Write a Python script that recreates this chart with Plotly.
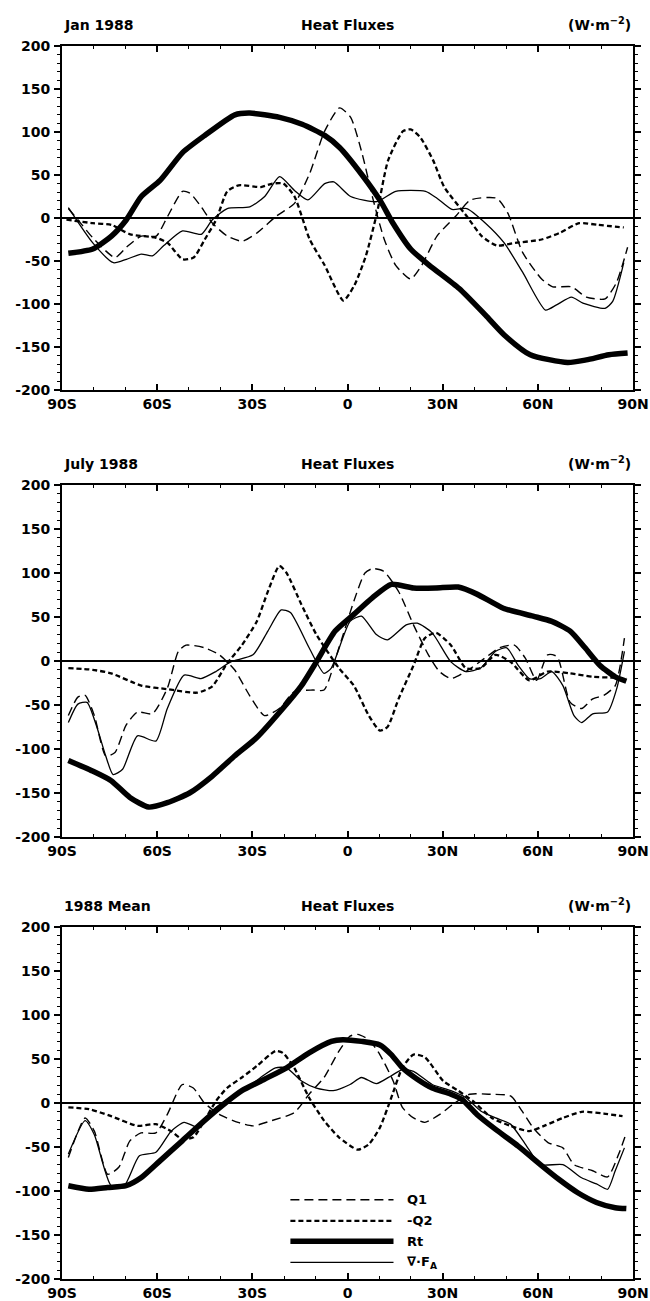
import plotly.graph_objects as go

# ---------------- axis ticks ----------------
lat_ticks = [-90, -60, -30, 0, 30, 60, 90]
lat_ticklabels = ["90S", "60S", "30S", "0", "30N", "60N", "90N"]
y_ticks = [-200, -150, -100, -50, 0, 50, 100, 150, 200]

panel_titles = ["Jan 1988", "July 1988", "1988 Mean"]
series_names = ["Q1", "-Q2", "Rt", "∇·F<sub>A</sub>"]

# ---------------- Jan 1988 ----------------
jan_q1_lat = [-88, -85, -80.3, -73.3, -69.7, -65, -60.3, -56.7, -52, -49.7, -46.1, -42.6, -37.9, -33.2, -28.4, -22.5,
              -16.7, -11.9, -7.2, -2.5, 1, 4.6, 8.1, 11.6, 15.2, 19.9, 23.4, 28.2, 34.1, 38.8, 47, 50.5, 55.2, 61.2,
              64.7, 70.6, 75.3, 81.2, 84.8, 88.3]
jan_q1 = [11, -2, -23, -46, -34, -21, -21, 2, 31, 29, 13, -6, -21, -27, -17, 2,
          17, 52, 101, 128, 117, 75, 21, -25, -55, -71, -55, -21, 2, 21, 23, 6, -40, -71,
          -80, -80, -92, -94, -75, -34]
jan_q2_lat = [-88.6, -80.3, -74.4, -68.5, -60.3, -56.7, -52, -48.5, -45, -41.4, -37.9, -34.3, -27.3, -23.7, -20.2,
              -16.7, -11.9, -7.2, -1.3, 2.2, 5.8, 9.3, 12.8, 17.5, 19.9, 22.9, 27, 30.5, 37.6, 42.3, 47, 52.9, 61.2,
              67.1, 73, 78.9, 87.1]
jan_q2 = [-2, -6, -8, -19, -23, -29, -48, -46, -25, -2, 31, 38, 36, 40, 40,
          25, -25, -55, -96, -78, -44, 6, 67, 101, 103, 94, 67, 36, 2, -21, -32, -29, -25,
          -17, -6, -8, -11]
jan_rt_lat = [-88, -80.3, -74.4, -69.7, -65, -59, -52, -45, -35.5, -30.8, -21.4, -14.3, -7.2, -2.5, 4.6, 10.5, 14,
              19.9, 25.8, 35.2, 43.5, 49.4, 57.6, 69.4, 75.3, 82.4, 88.3]
jan_rt = [-41, -36, -21, -2, 25, 44, 76, 96, 120, 122, 117, 109, 96, 82, 50, 19, -4,
          -36, -55, -82, -113, -136, -159, -168, -165, -159, -157]
jan_fa_lat = [-88, -80.3, -73.8, -69.7, -65, -61.5, -57.9, -52, -46.1, -42.6, -37.9, -30.8, -26.1, -21.4, -16.7,
              -12.5, -7.2, -4.3, 1, 9.3, 15.2, 24.6, 28.2, 32.9, 37.6, 43.5, 49.4, 55.2, 62.4, 65.9, 70.6, 74.2,
              81.2, 83.6, 87.1]
jan_fa = [12, -29, -52, -48, -42, -44, -32, -15, -19, -2, 11, 13, 25, 48, 32,
          21, 40, 42, 25, 19, 31, 31, 23, 10, 11, -6, -29, -63, -107, -101, -92, -99,
          -105, -97, -52]

# ---------------- July 1988 ----------------
jul_q1_lat = [-88, -85, -82.7, -79.8, -76.2, -73.3, -69.8, -66.2, -61.5, -56.8, -53.3, -50.9, -45, -40.4, -35.6,
              -30.9, -26.2, -21.5, -16.8, -10.9, -7.4, -2.7, 2, 5.5, 7.9, 11.4, 16.1, 20.8, 25.5, 29, 32.6, 37.3,
              43.2, 47.9, 52.6, 56.1, 59.6, 63.1, 66.1, 70.2, 73.8, 77.3, 80.8, 84.4, 87.3]
jul_q1 = [-62, -41, -39, -62, -108, -104, -73, -58, -60, -31, 11, 18, 15, 7, -10,
          -39, -62, -54, -35, -33, -33, 15, 68, 100, 105, 102, 79, 41, 7, -12, -20, -12,
          3, 15, 18, 3, -22, 7, 5, -47, -54, -43, -39, -28, 26]
jul_q2_lat = [-88, -80.4, -74.5, -65, -56.8, -47.4, -42.7, -38, -33.3, -28.6, -25.1, -21.5, -19.2, -14.5, -9.8,
              -2.7, 2, 6.7, 10.2, 12.6, 16.1, 20.8, 24.4, 27.9, 32.6, 37.3, 42, 46.7, 51.4, 57.3, 63.1, 70.2,
              77.3, 84.4, 87.9]
jul_q2 = [-8, -10, -14, -28, -32, -36, -29, -3, 18, 45, 79, 108, 100, 64, 30,
          -8, -28, -62, -79, -75, -43, -5, 26, 32, 18, -8, -8, 7, -1, -22, -12, -14,
          -18, -19, -20]
jul_rt_lat = [-88, -80.4, -74.5, -68.6, -62.7, -56.8, -49.8, -42.7, -35.6, -28.6, -20.4, -14.5, -9.8, -3.9, 2,
              7.9, 13.8, 20.8, 27.9, 34.9, 40.8, 49.1, 58.5, 64.4, 70.2, 74.9, 79.6, 84.4, 87.9]
jul_rt = [-113, -125, -136, -155, -166, -161, -150, -131, -108, -87, -54, -28, -1, 34, 53,
          72, 87, 83, 83, 84, 76, 60, 51, 45, 34, 15, -5, -18, -23]
jul_fa_lat = [-88, -85, -82.1, -79.2, -76.2, -73.9, -70.9, -66.2, -60.4, -56.8, -51.5, -46.2, -41.5, -36.8, -29.8,
              -25.1, -20.9, -18, -12.1, -7.4, -5.1, 0.8, 4.4, 9.1, 12.6, 18.5, 22, 26.7, 32.6, 37.3, 42, 46.7,
              50.2, 53.8, 57.3, 60.8, 64.4, 67.9, 71.4, 73.8, 77.3, 82, 84.9, 87.3]
jul_fa = [-70, -49, -47, -73, -108, -129, -123, -85, -91, -54, -16, -20, -12, -1, 7,
          34, 58, 55, 15, -14, -8, 45, 51, 30, 24, 41, 43, 32, -1, -12, -8, 11,
          15, -5, -20, -20, -12, -28, -62, -70, -60, -58, -31, 11]

# ---------------- 1988 Mean ----------------
ann_q1_lat = [-88, -82.7, -79.8, -75.6, -72.1, -68.6, -65.1, -60.4, -56.8, -52.1, -48.6, -45.1, -40.4, -34.5, -29.8,
              -23.9, -16.8, -12.1, -7.4, -2.7, 0.8, 3.2, 6.7, 10.2, 14.4, 17.3, 20.8, 24.4, 29.1, 33.8, 38.5, 44.4,
              51.4, 55, 58.5, 63.2, 67.9, 71.4, 77.3, 82, 85.5, 87.9]
ann_q1 = [-62, -17, -32, -81, -73, -43, -34, -34, -13, 21, 17, 0, -13, -22, -26,
          -20, -11, 10, 29, 59, 76, 78, 72, 55, 25, -5, -17, -22, -13, 0, 10, 10,
          8, -9, -28, -45, -51, -70, -77, -84, -58, -34]
ann_q2_lat = [-88, -81.5, -74.5, -66.2, -60.4, -55.6, -52.1, -48.6, -45.1, -41.5, -38, -33.3, -28.6, -22.7, -20.4,
              -16.8, -12.1, -7.4, -2.7, 3.2, 6.7, 10.2, 13.8, 17.3, 20.8, 24.4, 30.2, 34.9, 39.6, 45.5, 51.4,
              57.3, 62, 67.9, 73.8, 80.8, 86.7]
ann_q2 = [-5, -7, -15, -26, -24, -32, -41, -39, -20, 2, 17, 29, 42, 59, 57,
          40, 6, -20, -39, -53, -47, -28, 6, 40, 55, 52, 25, 14, 2, -17, -26,
          -32, -26, -17, -10, -12, -15]
ann_rt_lat = [-88, -81.5, -75.6, -69.8, -65.1, -59.2, -52.1, -45.1, -39.2, -33.3, -26.2, -19.2, -12.1, -5.1, -1.5,
              4.4, 10.2, 13.8, 17.3, 22, 26.7, 32.6, 36.1, 40.8, 46.7, 53.8, 60.8, 66.7, 72.6, 78.5, 84.4, 87.9]
ann_rt = [-94, -98, -96, -94, -85, -66, -43, -20, -2, 14, 27, 40, 57, 70, 72,
          70, 66, 55, 40, 27, 17, 10, 4, -13, -30, -49, -70, -87, -102, -113, -119, -120]
ann_fa_lat = [-88, -82.7, -79.8, -74.5, -70.4, -65.6, -60.4, -55.6, -51.5, -46.8, -42.7, -38, -32.1, -27.4, -22.7,
              -19.2, -14.5, -9.8, -4.5, 0.8, 4.4, 9.1, 13.8, 17.3, 20.8, 26.7, 32.6, 37.3, 42, 46.7, 51.4, 56.1,
              60.8, 67.9, 73.8, 78.5, 82, 84.4, 87.3]
ann_fa = [-58, -20, -36, -94, -94, -60, -56, -32, -22, -28, -9, 4, 16, 29, 40,
          40, 25, 17, 14, 21, 29, 22, 31, 38, 36, 21, 14, 6, -9, -17, -24, -47,
          -70, -70, -85, -92, -98, -77, -51]

panels = [
    [(jan_q1_lat, jan_q1), (jan_q2_lat, jan_q2), (jan_rt_lat, jan_rt), (jan_fa_lat, jan_fa)],
    [(jul_q1_lat, jul_q1), (jul_q2_lat, jul_q2), (jul_rt_lat, jul_rt), (jul_fa_lat, jul_fa)],
    [(ann_q1_lat, ann_q1), (ann_q2_lat, ann_q2), (ann_rt_lat, ann_rt), (ann_fa_lat, ann_fa)],
]

# ---------------- styles ----------------
styles = [
    dict(width=1.4, dash="9px,5px"),            # Q1
    dict(width=2.3, dash="5px,3px"),            # -Q2
    dict(width=5.5, dash="solid"),              # Rt
    dict(width=1.3, dash="solid"),              # div F_A
]

W, H = 650, 1301
x_dom = [62 / W, 633 / W]
# pixel top / bottom of each panel frame
panel_px = [(46, 390), (485, 837), (927, 1279)]

fig = go.Figure()
FONT = "DejaVu Sans"

for p, series in enumerate(panels):
    xa = "x" if p == 0 else f"x{p + 1}"
    ya = "y" if p == 0 else f"y{p + 1}"
    for s, (lat, val) in enumerate(series):
        st = styles[s]
        fig.add_trace(go.Scatter(
            x=lat, y=val, mode="lines", xaxis=xa, yaxis=ya, showlegend=False,
            line=dict(color="black", width=st["width"], dash=st["dash"], shape="spline", smoothing=0.6),
            name=series_names[s],
        ))
    top, bot = panel_px[p]
    dom = [1 - bot / H, 1 - top / H]
    xkey = "xaxis" if p == 0 else f"xaxis{p + 1}"
    ykey = "yaxis" if p == 0 else f"yaxis{p + 1}"
    fig.update_layout(**{
        xkey: dict(
            domain=x_dom, anchor=ya, range=[-90, 90], tickmode="array",
            tickvals=lat_ticks, ticktext=lat_ticklabels,
            ticks="inside", ticklen=6, tickwidth=1.5, tickcolor="black",
            minor=dict(dtick=10, tick0=0, ticks="inside", ticklen=3, tickwidth=1.2, tickcolor="black"),
            showline=True, linecolor="black", linewidth=2, mirror="ticks",
            showgrid=False, zeroline=False, ticklabelstandoff=0,
            tickfont=dict(family=FONT, size=14, color="black", weight="bold"),
        ),
        ykey: dict(
            domain=dom, anchor=xa, range=[-200, 200], tickmode="array",
            tickvals=y_ticks, ticktext=[str(v) for v in y_ticks],
            ticks="outside", ticklen=6, tickwidth=1.5, tickcolor="black",
            minor=dict(dtick=10, tick0=0, ticks="outside", ticklen=3, tickwidth=1.2, tickcolor="black"),
            showline=True, linecolor="black", linewidth=2, mirror="ticks",
            showgrid=False, zeroline=True, zerolinecolor="black", zerolinewidth=2,
            ticklabelstandoff=1,
            tickfont=dict(family=FONT, size=14, color="black", weight="bold"),
        ),
    })
    xd = f"{xa} domain"
    yd = f"{ya} domain"
    tfont = dict(family=FONT, size=14, color="black", weight="bold")
    fig.add_annotation(text=panel_titles[p], xref=xd, yref=yd, x=0, y=1, xanchor="left",
                       yanchor="bottom", yshift=11, showarrow=False, font=tfont)
    fig.add_annotation(text="Heat Fluxes", xref=xd, yref=yd, x=0.5, y=1, xanchor="center",
                       yanchor="bottom", yshift=11, showarrow=False, font=tfont)
    fig.add_annotation(text="(W·m<sup>−2</sup>)", xref=xd, yref=yd, x=1, y=1, xanchor="right",
                       yanchor="bottom", yshift=11, showarrow=False, font=tfont)

# ---------------- legend (panel 3) ----------------
leg_y = [-110, -134, -157, -181]
for s in range(4):
    st = styles[s]
    fig.add_shape(type="line", xref="x3", yref="y3", x0=-18, x1=14.5, y0=leg_y[s], y1=leg_y[s],
                  line=dict(color="black", width=st["width"], dash=st["dash"]))
    fig.add_annotation(text=series_names[s], xref="x3", yref="y3", x=18, y=leg_y[s],
                       xanchor="left", yanchor="middle", showarrow=False,
                       font=dict(family=FONT, size=13, color="black", weight="bold"))

fig.update_layout(
    width=W, height=H, margin=dict(l=0, r=0, t=0, b=0, autoexpand=False),
    paper_bgcolor="white", plot_bgcolor="white", showlegend=False,
)

fig.write_html("out.html")
